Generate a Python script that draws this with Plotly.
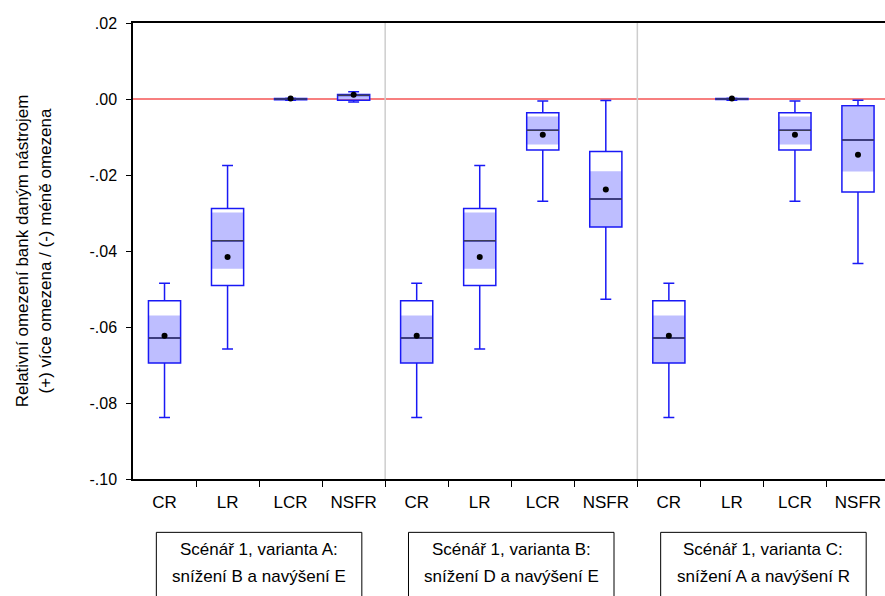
import plotly.graph_objects as go

# ---- data ----
categories = ["CR", "LR", "LCR", "NSFR"] * 3
groups = ["Scénář 1, varianta A:", "Scénář 1, varianta B:", "Scénář 1, varianta C:"]
groups_line2 = ["snížení B a navýšení E", "snížení D a navýšení E", "snížení A a navýšení R"]

lower_whisker = [-0.0838, -0.0658, -0.0003, -0.0008,
                 -0.0838, -0.0658, -0.0269, -0.0527,
                 -0.0838, -0.0003, -0.0269, -0.0433]
q1 = [-0.0695, -0.0491, -0.0002, -0.0003,
      -0.0695, -0.0491, -0.0134, -0.0337,
      -0.0695, -0.0001, -0.0134, -0.0245]
median = [-0.0629, -0.0373, 0.0000, 0.0010,
          -0.0629, -0.0373, -0.0082, -0.0263,
          -0.0629, 0.0000, -0.0082, -0.0108]
q3 = [-0.0531, -0.0288, 0.0001, 0.0012,
      -0.0531, -0.0288, -0.0036, -0.0138,
      -0.0531, 0.0001, -0.0036, -0.0018]
upper_whisker = [-0.0485, -0.0175, 0.0002, 0.0019,
                 -0.0485, -0.0175, -0.0005, -0.0004,
                 -0.0485, 0.0002, -0.0005, -0.0003]
mean = [-0.0623, -0.0416, 0.0001, 0.0011,
        -0.0623, -0.0416, -0.0094, -0.0238,
        -0.0623, 0.0001, -0.0094, -0.0147]
ci_low = [-0.0695, -0.0447, -0.0002, 0.0000,
          -0.0695, -0.0447, -0.0120, -0.0337,
          -0.0695, -0.0001, -0.0120, -0.0191]
ci_high = [-0.0570, -0.0299, 0.0001, 0.0012,
           -0.0570, -0.0299, -0.0046, -0.0190,
           -0.0570, 0.0001, -0.0046, -0.0020]

y_tickvals = [0.02, 0.00, -0.02, -0.04, -0.06, -0.08, -0.10]
y_ticktext = [".02", ".00", "-.02", "-.04", "-.06", "-.08", "-.10"]

# ---- styles ----
FONT = "Liberation Sans, Arial, sans-serif"
FS = 17
BLUE = "rgb(25,25,245)"
SHADE = "rgb(190,190,255)"
BOXW = 0.51

pos = list(range(len(categories)))

fig = go.Figure()

# shaded band around the median
fig.add_trace(go.Bar(
    x=pos, base=ci_low, y=[h - l for h, l in zip(ci_high, ci_low)],
    width=BOXW, marker=dict(color=SHADE, line=dict(width=0)),
    hoverinfo="skip", showlegend=False))

# boxes
fig.add_trace(go.Box(
    x=pos, q1=q1, median=median, q3=q3,
    lowerfence=lower_whisker, upperfence=upper_whisker,
    width=BOXW, whiskerwidth=0.34,
    fillcolor="rgba(0,0,0,0)", line=dict(color=BLUE, width=1.5),
    boxpoints=False, showlegend=False, hoverinfo="skip"))

# dark median lines
mx, my = [], []
for p, m in zip(pos, median):
    mx += [p - BOXW / 2, p + BOXW / 2, None]
    my += [m, m, None]
fig.add_trace(go.Scatter(x=mx, y=my, mode="lines",
                         line=dict(color="rgb(60,60,85)", width=1.5),
                         hoverinfo="skip", showlegend=False))

# means
fig.add_trace(go.Scatter(x=pos, y=mean, mode="markers",
                         marker=dict(color="black", size=6),
                         hoverinfo="skip", showlegend=False))

shapes = []
# zero line
shapes.append(dict(type="line", xref="paper", x0=0, x1=1, yref="y", y0=0, y1=0,
                   line=dict(color="rgb(240,0,0)", width=1.2), layer="below"))
# group separators
for g in range(1, len(groups)):
    shapes.append(dict(type="line", xref="x", x0=g * 4 - 0.5, x1=g * 4 - 0.5,
                       yref="paper", y0=0, y1=1,
                       line=dict(color="rgb(205,205,205)", width=1.5), layer="below"))

annotations = []
for g, (t1, t2) in enumerate(zip(groups, groups_line2)):
    c = g * 4 + 1.5
    shapes.append(dict(type="rect", xref="x", x0=c - 1.63, x1=c + 1.63,
                       yref="paper", y0=-0.117, y1=-0.30,
                       line=dict(color="black", width=1), fillcolor="rgba(0,0,0,0)"))
    annotations.append(dict(x=c, xref="x", y=-0.1545, yref="paper", text=t1,
                            showarrow=False, font=dict(family=FONT, size=FS, color="black"),
                            xanchor="center", yanchor="middle"))
    annotations.append(dict(x=c, xref="x", y=-0.2135, yref="paper", text=t2,
                            showarrow=False, font=dict(family=FONT, size=FS, color="black"),
                            xanchor="center", yanchor="middle"))

fig.update_layout(
    width=885, height=596,
    margin=dict(l=133, r=0, t=23, b=117),
    paper_bgcolor="white", plot_bgcolor="white",
    font=dict(family=FONT, size=FS, color="black"),
    showlegend=False, barmode="overlay", boxmode="overlay",
    shapes=shapes, annotations=annotations,
    xaxis=dict(range=[-0.5, -0.5 + 751.5 / 63], tickmode="array",
               tickvals=pos, ticktext=categories, ticks="",
               showline=True, linecolor="black", linewidth=1.5, mirror=True,
               showgrid=False, zeroline=False, ticklabelstandoff=7,
               minor=dict(tickmode="array", tickvals=[p + 0.5 for p in pos[:-1]],
                          ticks="outside", ticklen=6, tickcolor="black", tickwidth=1,
                          showgrid=False),
               tickfont=dict(family=FONT, size=FS)),
    yaxis=dict(range=[-0.10, 0.02], tickmode="array", tickvals=y_tickvals,
               ticktext=y_ticktext, ticks="outside", ticklen=5, tickcolor="black",
               showline=True, linecolor="black", linewidth=1.5,
               showgrid=False, zeroline=False, ticklabelstandoff=6,
               tickfont=dict(family=FONT, size=16),
               title=dict(text="Relativní omezení bank daným nástrojem<br>(+) více omezena / (-) méně omezena",
                          font=dict(family=FONT, size=FS), standoff=34)),
)

fig.write_html("out.html")
